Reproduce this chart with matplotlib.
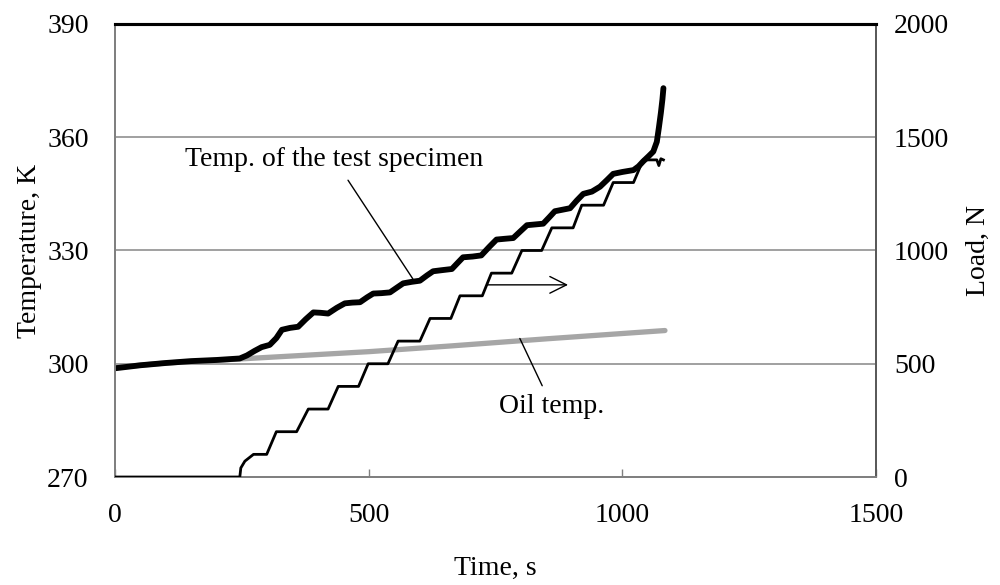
import matplotlib
matplotlib.use('Agg')
import matplotlib.pyplot as plt

plt.rcParams['font.family'] = ['Liberation Serif', 'DejaVu Serif']

# temperature of the test specimen (time s, K)
spec_time = [0, 50, 100, 150, 200, 246, 260, 275, 289, 305, 318, 329, 345, 361, 376, 391,
             405, 420, 437, 453, 468, 483, 497, 509, 525, 542, 556, 568, 585, 601, 615, 627,
             645, 664, 676, 686, 705, 722, 738, 752, 768, 785, 800, 812, 828, 844, 856, 867,
             882, 897, 910, 923, 940, 956, 970, 982, 1000, 1022, 1032, 1041, 1052, 1061,
             1068, 1072, 1076, 1079, 1081]
spec_temp = [298.8, 299.6, 300.2, 300.7, 301.0, 301.4, 302.2, 303.4, 304.4, 305.0, 306.8, 309.0,
             309.5, 309.8, 311.8, 313.6, 313.5, 313.3, 314.8, 316.0, 316.2, 316.3, 317.6, 318.6,
             318.7, 318.9, 320.2, 321.3, 321.7, 322.0, 323.4, 324.5, 324.8, 325.1, 326.8, 328.2,
             328.4, 328.7, 331.0, 332.9, 333.1, 333.3, 335.2, 336.7, 336.9, 337.1, 338.8, 340.4,
             340.8, 341.2, 343.2, 345.0, 345.6, 346.9, 348.7, 350.3, 350.8, 351.3, 352.3, 353.6,
             355.0, 356.2, 358.8, 362.5, 366.5, 370.0, 373.0]

# oil temperature (time s, K)
oil_time = [0, 100, 250, 500, 660, 850, 1084]
oil_temp = [299.0, 300.2, 301.3, 303.2, 304.7, 306.6, 308.8]

# load (time s, N)
load_time = [0, 246, 248, 256, 273, 299, 318, 358, 381, 420, 440, 480, 499, 538, 558, 601,
             621, 662, 680, 724, 742, 782, 802, 841, 861, 903, 920, 963, 982, 1022, 1041,
             1068, 1072, 1076, 1081]
load_vals = [0, 0, 40, 70, 100, 100, 200, 200, 300, 300, 400, 400, 500, 500, 600, 600,
             700, 700, 800, 800, 900, 900, 1000, 1000, 1100, 1100, 1200, 1200, 1300, 1300, 1400,
             1400, 1375, 1405, 1400]

fig = plt.figure(figsize=(10, 5.85), dpi=100)
ax = fig.add_axes([0.115, 0.1846, 0.761, 0.7744])
ax2 = ax.twinx()

ax.plot(oil_time, oil_temp, color='#a6a6a6', lw=3.8, solid_capstyle='round', zorder=3)
ax.plot(spec_time, spec_temp, color='black', lw=4.2, solid_capstyle='round',
        solid_joinstyle='round', zorder=4)
ax2.plot(load_time, load_vals, color='black', lw=2.0, solid_joinstyle='round', zorder=5)

ax.set_xlim(0, 1500)
ax.set_ylim(270, 390)
ax2.set_ylim(0, 2000)
ax.set_xticks([0, 500, 1000, 1500])
ax.set_yticks([270, 300, 330, 360, 390])
ax2.set_yticks([0, 500, 1000, 1500, 2000])

ax.yaxis.grid(True, color='#a0a0a0', lw=1.4)
ax.set_axisbelow(True)

for a in (ax, ax2):
    for s in a.spines.values():
        s.set_color('#808080')
        s.set_linewidth(1.4)
    a.spines['top'].set_color('black')
    a.spines['top'].set_linewidth(2.2)
ax2.spines['right'].set_color('#595959')

ax.tick_params(axis='x', direction='in', length=6, width=1, color='#808080', labelsize=20, pad=19)
ax.tick_params(axis='y', length=0, labelsize=20, pad=19)
ax2.tick_params(axis='y', length=0, labelsize=20, pad=13)

ax.set_xlabel('Time, s', fontsize=20, labelpad=20)
ax.set_ylabel('Temperature, K', fontsize=20, labelpad=4)
ax2.set_ylabel('Load, N', fontsize=20, labelpad=12)

# annotations
ax.annotate('Temp. of the test specimen', xy=(587, 322.5), xytext=(432, 354.2),
            fontsize=20, ha='center', va='center',
            arrowprops=dict(arrowstyle='-', color='black', lw=1, shrinkA=5, shrinkB=0), zorder=6)
ax.annotate('Oil temp.', xy=(798, 306.7), xytext=(861, 288.8),
            fontsize=20, ha='center', va='center',
            arrowprops=dict(arrowstyle='-', color='black', lw=1, shrinkA=4, shrinkB=0), zorder=6)
ax.annotate('', xy=(893, 320.9), xytext=(733, 320.9),
            arrowprops=dict(arrowstyle='->', color='black', lw=1, mutation_scale=30,
                            shrinkA=0, shrinkB=0), zorder=6)

fig.savefig('out.png', dpi=100)
